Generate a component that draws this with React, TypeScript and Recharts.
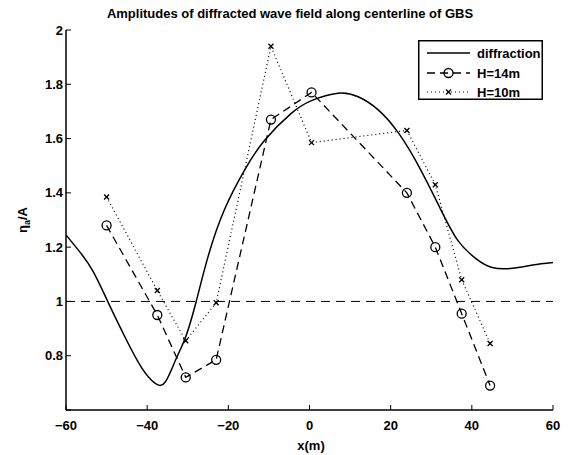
import React from 'react';
import { LineChart, Line, XAxis, YAxis, ReferenceLine, Legend } from 'recharts';

const xTicks = [-60, -40, -20, 0, 20, 40, 60];
const yTicks = [0.6, 0.8, 1, 1.2, 1.4, 1.6, 1.8, 2];

// solid diffraction curve
const diffX = [-60, -57, -53.5, -49.5, -45.5, -41.5, -38, -35.5, -33, -30.5, -28, -25, -21, -16, -11, -4.5, 0.5, 7, 12, 17, 22, 27, 32, 36.5, 41, 45, 50, 55, 60];
const diffY = [1.245, 1.19, 1.115, 0.993, 0.87, 0.759, 0.698, 0.704, 0.784, 0.87, 0.995, 1.165, 1.337, 1.484, 1.595, 1.693, 1.74, 1.767, 1.754, 1.705, 1.619, 1.496, 1.349, 1.226, 1.158, 1.125, 1.122, 1.134, 1.143];

// measured points
const hX = [-50, -37.5, -30.5, -23, -9.5, 0.5, 24, 31, 37.5, 44.5];
const h14 = [1.28, 0.95, 0.72, 0.785, 1.67, 1.77, 1.4, 1.2, 0.955, 0.69];
const h10 = [1.385, 1.04, 0.855, 0.995, 1.94, 1.585, 1.63, 1.43, 1.08, 0.845];

const seriesNames = ['diffraction', 'H=14m', 'H=10m'];

const diffData = diffX.map((x, i) => ({ x, y: diffY[i] }));
const h14Data = hX.map((x, i) => ({ x, y: h14[i] }));
const h10Data = hX.map((x, i) => ({ x, y: h10[i] }));

const FONT = '"Liberation Sans", Arial, sans-serif';

const fmt = (v: number) => (v < 0 ? `\u2212${-v}` : `${v}`);

const BottomTick = ({ x, y, payload }: any) => (
  <g>
    <line x1={x} x2={x} y1={y} y2={y - 5} stroke="#000" strokeWidth={1} />
    <text x={x} y={y + 20} textAnchor="middle" fontSize={13} fontWeight="bold" fontFamily={FONT} fill="#000">
      {fmt(payload.value)}
    </text>
  </g>
);

const TopTick = ({ x, y }: any) => <line x1={x} x2={x} y1={y} y2={y + 5} stroke="#000" strokeWidth={1} />;

const LeftTick = ({ x, y, payload }: any) => (
  <g>
    <line x1={x} x2={x + 5} y1={y} y2={y} stroke="#000" strokeWidth={1} />
    {payload.value > 0.7 && (
      <text x={x - 3} y={y + 4.5} textAnchor="end" fontSize={13} fontWeight="bold" fontFamily={FONT} fill="#000">
        {payload.value}
      </text>
    )}
  </g>
);

const RightTick = ({ x, y }: any) => <line x1={x} x2={x - 5} y1={y} y2={y} stroke="#000" strokeWidth={1} />;

const CircleDot = ({ cx, cy }: any) => <circle cx={cx} cy={cy} r={4.5} fill="none" stroke="#000" strokeWidth={1.3} />;

const CrossDot = ({ cx, cy }: any) => (
  <g stroke="#000" strokeWidth={1.3}>
    <line x1={cx - 2.5} y1={cy - 2.5} x2={cx + 2.5} y2={cy + 2.5} />
    <line x1={cx - 2.5} y1={cy + 2.5} x2={cx + 2.5} y2={cy - 2.5} />
  </g>
);

const LegendBox = () => {
  const rows = [13, 33, 52];
  return (
    <svg width={125} height={60} style={{ display: 'block' }}>
      <rect x={0.75} y={0.75} width={123.5} height={58.5} fill="#fff" stroke="#000" strokeWidth={1.5} />
      <line x1={9} x2={52} y1={rows[0]} y2={rows[0]} stroke="#000" strokeWidth={1.5} />
      <line x1={9} x2={52} y1={rows[1]} y2={rows[1]} stroke="#000" strokeWidth={1.3} strokeDasharray="8 5" />
      <CircleDot cx={30.5} cy={rows[1]} />
      <line x1={9} x2={52} y1={rows[2]} y2={rows[2]} stroke="#000" strokeWidth={1.2} strokeDasharray="1 3" />
      <CrossDot cx={30.5} cy={rows[2]} />
      {seriesNames.map((n, i) => (
        <text key={n} x={59} y={rows[i] + 4.5} fontSize={13} fontWeight="bold" fontFamily={FONT} fill="#000">
          {n}
        </text>
      ))}
    </svg>
  );
};

export default function App() {
  return (
    <div style={{ position: 'absolute', left: 0, top: 0, width: 569, height: 455, background: '#fff' }}>
      <div
        style={{
          position: 'absolute',
          left: 0,
          width: 580,
          top: 6,
          textAlign: 'center',
          fontFamily: FONT,
          fontSize: 13,
          fontWeight: 'bold',
          zIndex: 2,
        }}
      >
        Amplitudes of diffracted wave field along centerline of GBS
      </div>
      <LineChart width={569} height={455} margin={{ top: 30, right: 16, bottom: 0, left: 0 }}>
        <XAxis
          xAxisId="b"
          type="number"
          dataKey="x"
          domain={[-60, 60]}
          ticks={xTicks}
          height={45}
          tickSize={0}
          tickMargin={0}
          tickLine={false}
          tick={<BottomTick />}
          axisLine={{ stroke: '#000', strokeWidth: 1.5 }}
          allowDataOverflow
          label={{
            content: () => (
              <text x={311} y={450} textAnchor="middle" fontSize={13} fontWeight="bold" fontFamily={FONT} fill="#000">
                x(m)
              </text>
            ),
          }}
        />
        <XAxis
          xAxisId="t"
          orientation="top"
          type="number"
          dataKey="x"
          domain={[-60, 60]}
          ticks={xTicks}
          height={0}
          tickSize={0}
          tickMargin={0}
          tickLine={false}
          tick={<TopTick />}
          axisLine={{ stroke: '#000', strokeWidth: 1.5 }}
        />
        <YAxis
          yAxisId="l"
          type="number"
          domain={[0.6, 2]}
          ticks={yTicks}
          width={66}
          tickSize={0}
          tickMargin={0}
          tickLine={false}
          tick={<LeftTick />}
          axisLine={{ stroke: '#000', strokeWidth: 1.5 }}
          allowDataOverflow
          label={{
            content: () => (
              <text
                transform="translate(27,220) rotate(-90)"
                textAnchor="middle"
                fontSize={13}
                fontWeight="bold"
                fontFamily={FONT}
                fill="#000"
              >
                η<tspan fontSize={9} dy={3}>a</tspan>
                <tspan dy={-3}>/A</tspan>
              </text>
            ),
          }}
        />
        <YAxis
          yAxisId="r"
          orientation="right"
          type="number"
          domain={[0.6, 2]}
          ticks={yTicks}
          width={0}
          tickSize={0}
          tickMargin={0}
          tickLine={false}
          tick={<RightTick />}
          axisLine={{ stroke: '#000', strokeWidth: 1.5 }}
        />
        <ReferenceLine xAxisId="b" yAxisId="l" y={1} stroke="#000" strokeWidth={1} strokeDasharray="9 6" />
        <Line
          xAxisId="b"
          yAxisId="l"
          data={diffData}
          dataKey="y"
          name={seriesNames[0]}
          type="natural"
          stroke="#000"
          strokeWidth={1.5}
          dot={false}
          isAnimationActive={false}
        />
        <Line
          xAxisId="b"
          yAxisId="l"
          data={h14Data}
          dataKey="y"
          name={seriesNames[1]}
          type="linear"
          stroke="#000"
          strokeWidth={1.3}
          strokeDasharray="8 5"
          dot={<CircleDot />}
          isAnimationActive={false}
        />
        <Line
          xAxisId="b"
          yAxisId="l"
          data={h10Data}
          dataKey="y"
          name={seriesNames[2]}
          type="linear"
          stroke="#000"
          strokeWidth={1.2}
          strokeDasharray="1 3"
          dot={<CrossDot />}
          isAnimationActive={false}
        />
        <Legend
          layout="vertical"
          align="center"
          verticalAlign="middle"
          wrapperStyle={{ top: 40, left: 418, width: 125, height: 60 }}
          content={<LegendBox />}
        />
      </LineChart>
    </div>
  );
}
